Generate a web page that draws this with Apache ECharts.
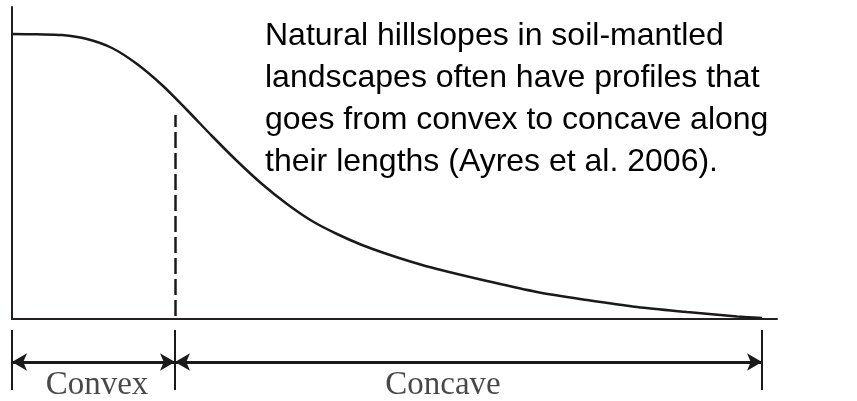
<!DOCTYPE html>
<html>
<head>
<meta charset="utf-8">
<script src="https://cdn.jsdelivr.net/npm/echarts@6/dist/echarts.min.js"></script>
<style>
html,body{margin:0;padding:0;background:#fff;}
#chart{width:857px;height:401px;}
</style>
</head>
<body>
<div id="chart"></div>
<script>
// Hillslope profile: distance along slope vs. elevation (arbitrary units)
const distance  = [0, 25, 50, 75, 100, 125, 150, 175, 200, 225, 250, 275, 300, 325, 350, 375, 400, 425, 475, 525, 575, 625, 675, 725, 750];
const elevation = [285, 284.7, 284, 280, 271, 255, 234, 209, 183, 158, 135, 115, 98, 85, 74, 65, 57, 50, 38, 27, 19, 12, 7, 2.5, 1];

// Convex / concave transition
const dividerX = 163;
const dividerBottom = 3;
const dividerTop = 204;

// Dimension ruler below the profile
const segmentBounds = [0, 163, 750];
const segmentNames = ['Convex', 'Concave'];
const segmentLabelX = [85, 431];
const rulerLevel = 28;
const labelLevel = 5;

const annotation = [
  'Natural hillslopes in soil-mantled',
  'landscapes often have profiles that',
  'goes from convex to concave along',
  'their lengths (Ayres et al. 2006).'
];

const xMax = 765, yMax = 312, rulerMax = 60;
const ink = '#231f20';

const chart = echarts.init(document.getElementById('chart'), null, {renderer: 'canvas'});

const profile = distance.map((d, i) => [d, elevation[i]]);

const rulerLines = [];
for (let i = 0; i < segmentBounds.length - 1; i++) {
  rulerLines.push([{coord: [segmentBounds[i], rulerLevel]}, {coord: [segmentBounds[i + 1], rulerLevel]}]);
}

chart.setOption({
  animation: false,
  backgroundColor: '#fff',
  title: {
    text: annotation.join('\n'),
    left: 265, top: 15, padding: 0,
    textStyle: {fontFamily: 'Liberation Sans, Arial, sans-serif', fontSize: 32, fontWeight: 'normal', lineHeight: 42, color: '#000'}
  },
  grid: [
    {left: 12, right: 80, top: 7, height: yMax},
    {left: 12, right: 80, top: 330, height: rulerMax}
  ],
  xAxis: [
    {type: 'value', gridIndex: 0, min: 0, max: xMax,
     axisLine: {show: true, lineStyle: {color: ink, width: 2}}, axisTick: {show: false}, axisLabel: {show: false}, splitLine: {show: false}},
    {type: 'value', gridIndex: 1, min: 0, max: xMax, show: false}
  ],
  yAxis: [
    {type: 'value', gridIndex: 0, min: 0, max: yMax,
     axisLine: {show: true, onZero: false, lineStyle: {color: ink, width: 2}}, axisTick: {show: false}, axisLabel: {show: false}, splitLine: {show: false}},
    {type: 'value', gridIndex: 1, min: 0, max: rulerMax, show: false}
  ],
  series: [
    {
      type: 'line', xAxisIndex: 0, yAxisIndex: 0,
      data: profile, smooth: 0.3, showSymbol: false, symbol: 'none',
      lineStyle: {color: '#1a1a1a', width: 2.5},
      silent: true,
      markLine: {
        silent: true, symbol: ['none', 'none'], label: {show: false},
        lineStyle: {color: '#1a1a1a', width: 2.5, type: [16, 5]},
        data: [[{coord: [dividerX, dividerBottom]}, {coord: [dividerX, dividerTop]}]]
      }
    },
    {
      type: 'scatter', xAxisIndex: 1, yAxisIndex: 1,
      data: segmentLabelX.map((x, i) => ({value: [x, labelLevel], name: segmentNames[i]})),
      symbolSize: 0, silent: true,
      label: {show: true, position: 'inside', formatter: '{b}',
        fontFamily: 'Liberation Serif, Times New Roman, serif', fontSize: 33, color: '#1a1a1a'},
      markLine: {
        silent: true, label: {show: false}, symbol: ['none', 'none'],
        lineStyle: {color: '#1a1a1a', width: 2, type: 'solid'},
        data: segmentBounds.map(x => ({xAxis: x}))
      }
    },
    {
      type: 'line', xAxisIndex: 1, yAxisIndex: 1, data: [], silent: true,
      markLine: {
        silent: true, label: {show: false},
        symbol: ['arrow', 'arrow'], symbolSize: [13, 15],
        itemStyle: {color: '#1a1a1a'},
        lineStyle: {color: '#1a1a1a', width: 3, type: 'solid'},
        data: rulerLines
      }
    }
  ]
});
</script>
</body>
</html>
